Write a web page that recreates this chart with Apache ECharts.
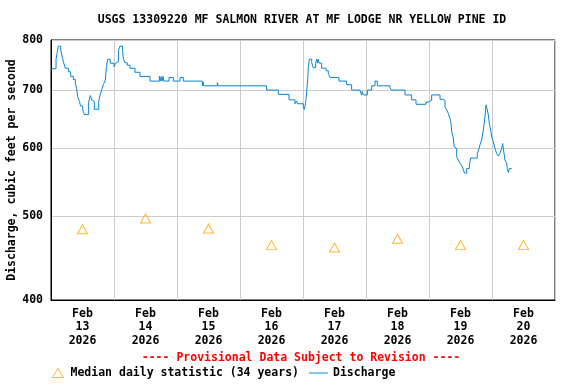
<!DOCTYPE html>
<html><head><meta charset="utf-8">
<script src="https://cdn.jsdelivr.net/npm/echarts@6/dist/echarts.min.js"></script>
<style>html,body{margin:0;padding:0;background:#fff}#c{width:576px;height:384px}</style>
</head><body><div id="c"></div>
<script>
const chartTitle = 'USGS 13309220 MF SALMON RIVER AT MF LODGE NR YELLOW PINE ID';
const yAxisTitle = 'Discharge, cubic feet per second';
const provisionalText = '---- Provisional Data Subject to Revision ----';
const monthLabel = 'Feb';
const yearLabel = '2026';
const dayLabels = ['13', '14', '15', '16', '17', '18', '19', '20'];
const yTicks = [400, 500, 600, 700, 800];
const medianName = 'Median daily statistic (34 years)';
const medianValues = [483, 497, 484, 463, 460, 471, 463, 463];
const dischargeName = 'Discharge';
// days since Feb 13 2026 00:00 (start of each level)
const dischargeDays = [
  0.00, 0.08, 0.10, 0.116, 0.154, 0.18, 0.196, 0.227, 0.28, 0.312, 0.354, 0.386, 0.407, 0.423, 0.45, 0.471, 0.503, 0.529,
  0.598, 0.625, 0.646, 0.66, 0.688, 0.757, 0.78, 0.81, 0.831, 0.862, 0.88, 0.9, 0.94,
  1.0, 1.025, 1.05, 1.07, 1.095, 1.135, 1.15, 1.175, 1.21, 1.254, 1.333, 1.413, 1.571,
  1.72, 1.735, 1.75, 1.765, 1.78, 1.79, 1.873, 1.942, 2.048, 2.1,
  2.402, 2.418, 2.425, 2.64, 2.655, 3.423, 3.608, 3.778, 3.873, 3.9, 3.91,
  4.005, 4.02, 4.04, 4.05, 4.06, 4.075, 4.085, 4.1, 4.138, 4.164, 4.201, 4.217, 4.23, 4.24, 4.259, 4.296, 4.365, 4.402, 4.429, 4.571, 4.693, 4.772, 4.905, 4.93, 4.94, 4.958,
  5.021, 5.09, 5.143, 5.18, 5.381, 5.407, 5.619, 5.725, 5.794, 5.952, 5.989,
  6.042, 6.175, 6.217, 6.254, 6.28, 6.307, 6.333, 6.35, 6.36, 6.386, 6.4, 6.413, 6.439, 6.466, 6.492, 6.519, 6.545, 6.561, 6.598, 6.64, 6.661, 6.767, 6.788, 6.81, 6.836, 6.862, 6.875, 6.889, 6.905, 6.926, 6.942, 6.958, 6.979, 6.995,
  7.021, 7.048, 7.074, 7.101, 7.127, 7.153, 7.169, 7.18, 7.206, 7.233, 7.243, 7.259, 7.275, 7.312
];
const dischargeValues = [
  741, 760, 775, 787, 779, 764, 755, 742, 735, 726, 720, 713, 703, 688, 679, 671, 664, 656,
  679, 690, 682, 679, 665, 679, 691, 703, 710, 719, 745, 760, 752,
  745, 752, 755, 778, 787, 778, 760, 753, 748, 742, 734, 726, 717,
  726, 717, 726, 717, 726, 717, 724, 717, 724, 717,
  708, 715, 708, 714, 708, 700, 692, 682, 675, 680, 675,
  670, 665, 675, 685, 700, 720, 745, 760, 753, 743, 752, 760, 752, 760, 752, 742, 737, 732, 724, 717, 710, 700, 697, 691, 697, 691,
  700, 708, 717, 708, 704, 700, 691, 682, 674, 678, 681,
  691, 683, 681, 669, 664, 658, 649, 640, 627, 616, 602, 599, 586, 581, 576, 572, 567, 561, 568, 572, 584, 591, 597, 605, 613, 629, 640, 652, 673, 664, 655, 640, 629, 618,
  610, 599, 591, 587, 592, 599, 607, 599, 581, 576, 568, 562, 568, 568
];

const FONT = 'DejaVu Sans Mono';
const chart = echarts.init(document.getElementById('c'), null, {renderer: 'canvas'});
const baseText = {fontFamily: FONT, fontWeight: 'bold', fontSize: 11.5, color: '#000'};
const lineColor = '#0a84d2';

chart.setOption({
  animation: false,
  backgroundColor: '#fff',
  grid: {left: 51, right: 21, top: 40, bottom: 84, show: true, borderColor: '#000', borderWidth: 1, backgroundColor: 'transparent', containLabel: false, outerBoundsMode: 'none'},
  xAxis: {
    type: 'value', min: 0, max: 8, interval: 1,
    axisLine: {show: true, lineStyle: {color: '#000', width: 1}},
    axisTick: {show: false},
    splitLine: {show: true, lineStyle: {color: '#cccccc', width: 1}},
    axisLabel: Object.assign({}, baseText, {
      customValues: dayLabels.map((d, i) => i + 0.5),
      margin: 7, lineHeight: 13.5,
      formatter: v => monthLabel + '\n' + dayLabels[Math.floor(v)] + '\n' + yearLabel
    })
  },
  yAxis: {
    type: 'log', logBase: 10, min: 400, max: 800,
    name: yAxisTitle, nameLocation: 'middle', nameGap: 33, nameRotate: 90, nameMoveOverlap: false,
    nameTextStyle: Object.assign({}, baseText),
    axisLine: {show: true, lineStyle: {color: '#000', width: 1}},
    axisTick: {show: false, customValues: yTicks},
    splitLine: {show: true, lineStyle: {color: '#cccccc', width: 1}},
    axisLabel: Object.assign({}, baseText, {customValues: yTicks, margin: 8, formatter: v => String(Math.round(v))})
  },
  legend: [
    {data: [{name: medianName, icon: 'triangle', itemStyle: {color: 'transparent', borderColor: '#ffa500', borderWidth: 1}}],
     left: 52, top: 367, padding: 0, itemWidth: 11, itemHeight: 9, itemGap: 0, textStyle: Object.assign({}, baseText, {padding: [0, 0, 0, 2]})},
    {data: [{name: dischargeName, icon: 'rect', itemStyle: {color: lineColor, borderWidth: 0}}],
     left: 309, top: 367, padding: 0, itemWidth: 19, itemHeight: 1, itemGap: 0, textStyle: Object.assign({}, baseText, {padding: [0, 0, 0, 0]})}
  ],
  graphic: [
    {type: 'text', x: 302, y: 20, style: {text: chartTitle, textAlign: 'center', textVerticalAlign: 'middle', fill: '#000', font: 'bold 11.5px "DejaVu Sans Mono"'}},
    {type: 'text', x: 301, y: 358, style: {text: provisionalText, textAlign: 'center', textVerticalAlign: 'middle', fill: '#ff0000', font: 'bold 11.5px "DejaVu Sans Mono"'}}
  ],
  series: [
    {
      name: dischargeName, type: 'line', step: 'end', showSymbol: false, symbol: 'none',
      lineStyle: {color: lineColor, width: 1}, itemStyle: {color: lineColor},
      data: dischargeDays.map((d, i) => [d, dischargeValues[i]]), z: 3
    },
    {
      name: medianName, type: 'scatter', symbol: 'triangle', symbolSize: [10, 9],
      itemStyle: {color: 'transparent', borderColor: '#ffa500', borderWidth: 1},
      data: medianValues.map((v, i) => [i + 0.5, v]), z: 4
    }
  ]
});
</script></body></html>
